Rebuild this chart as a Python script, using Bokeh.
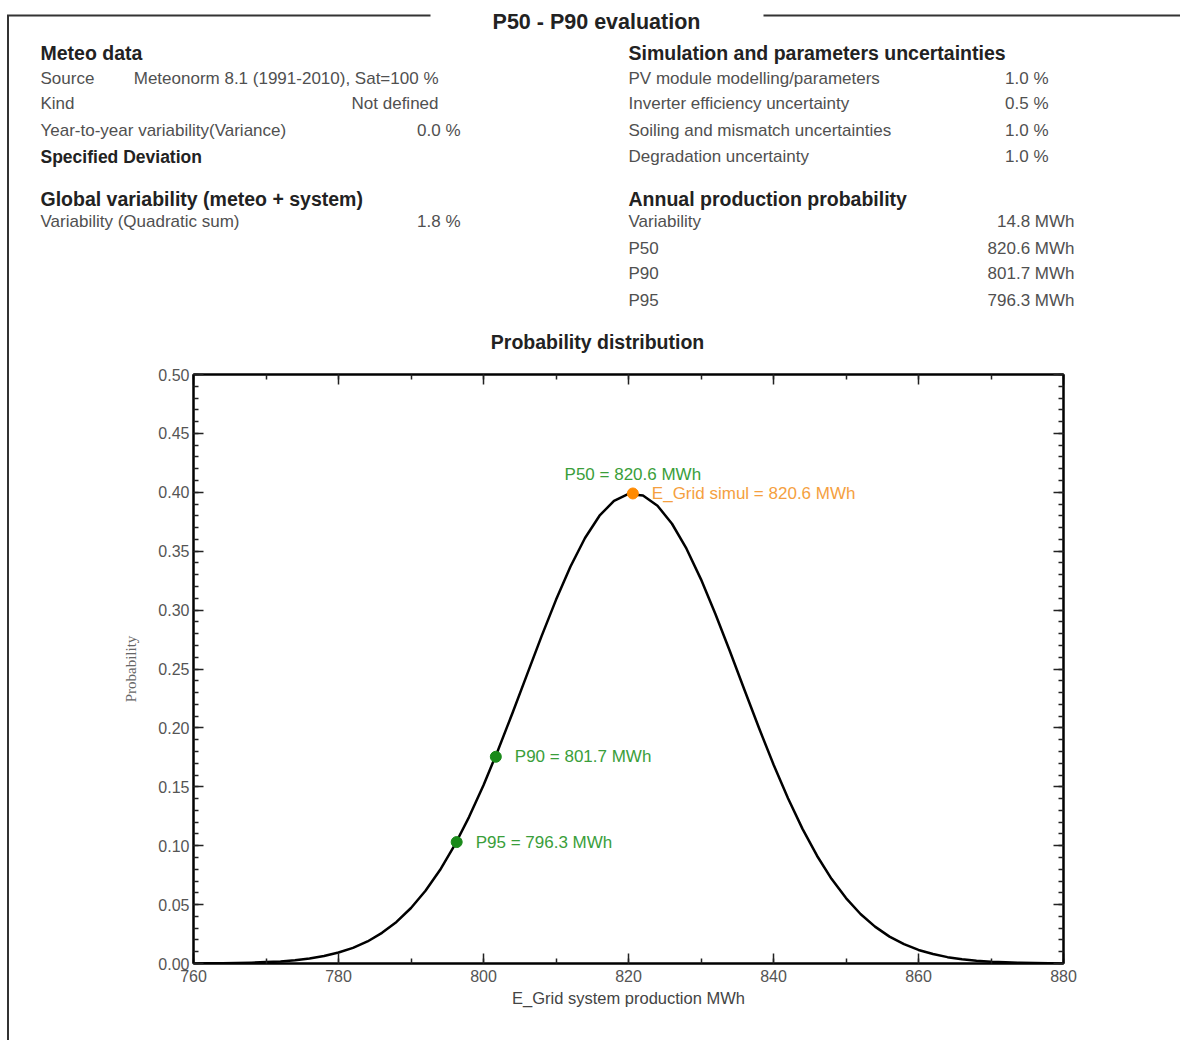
from bokeh.plotting import figure
from bokeh.models import (LinearAxis, SingleIntervalTicker, PrintfTickFormatter,
                          Range1d, ColumnDataSource, Spacer)
from bokeh.layouts import column, row
from bokeh.embed import file_html
from bokeh.resources import INLINE
from bokeh.core.properties import value

# ---------------- data ----------------
energy_mwh = [760, 762, 764, 766, 768, 770, 772, 774, 776, 778,
              780, 782, 784, 786, 788, 790, 792, 794, 796, 798,
              800, 802, 804, 806, 808, 810, 812, 814, 816, 818,
              820, 822, 824, 826, 828, 830, 832, 834, 836, 838,
              840, 842, 844, 846, 848, 850, 852, 854, 856, 858,
              860, 862, 864, 866, 868, 870, 872, 874, 876, 878, 880]
probability = [0.0001, 0.0002, 0.0003, 0.0004, 0.0007, 0.0012, 0.0018, 0.0028, 0.0043, 0.0063,
               0.0093, 0.0133, 0.0187, 0.0260, 0.0353, 0.0471, 0.0617, 0.0793, 0.1002, 0.1243,
               0.1514, 0.1811, 0.2127, 0.2452, 0.2777, 0.3087, 0.3370, 0.3612, 0.3801, 0.3928,
               0.3986, 0.3972, 0.3886, 0.3733, 0.3521, 0.3261, 0.2965, 0.2648, 0.2322, 0.1999,
               0.1690, 0.1403, 0.1143, 0.0915, 0.0719, 0.0555, 0.0420, 0.0313, 0.0228, 0.0164,
               0.0115, 0.0080, 0.0054, 0.0036, 0.0024, 0.0015, 0.0010, 0.0006, 0.0004, 0.0002, 0.0001]

p_names = ["P90", "P95"]
p_energy = [801.7, 796.3]
p_prob = [0.1755, 0.1031]
p50_energy = 820.6
p50_prob = 0.399

meteo_labels = ["Source", "Kind", "Year-to-year variability(Variance)"]
meteo_values = ["Meteonorm 8.1 (1991-2010), Sat=100 %", "Not defined", "0.0 %"]
global_labels = ["Variability (Quadratic sum)"]
global_values = ["1.8 %"]
unc_labels = ["PV module modelling/parameters", "Inverter efficiency uncertainty",
              "Soiling and mismatch uncertainties", "Degradation uncertainty"]
unc_values = ["1.0 %", "0.5 %", "1.0 %", "1.0 %"]
prod_labels = ["Variability", "P50", "P90", "P95"]
prod_values = ["14.8 MWh", "820.6 MWh", "801.7 MWh", "796.3 MWh"]

x_ticks_interval = 20
y_ticks_interval = 0.05

FONT = "Liberation Sans"
TOTAL_W = 1180
HEAD_H = 362
PLOT_H = 678
BORDER_X = 7      # page border line (left edge)
BORDER_W = 2

# ---------------- header (text block) ----------------
hd = figure(width=TOTAL_W, height=HEAD_H, output_backend="svg", toolbar_location=None,
            x_range=Range1d(0, TOTAL_W), y_range=Range1d(HEAD_H, 0),
            x_axis_location=None, y_axis_location=None, min_border=0)
hd.xgrid.visible = False
hd.ygrid.visible = False
hd.outline_line_color = None
hd.background_fill_color = "white"
hd.border_fill_color = "white"

# page frame lines
hd.line([BORDER_X + 0.5, BORDER_X + 0.5, 430], [HEAD_H, 15, 15], line_color="#333333", line_width=2,
        line_join="miter")
hd.line([763, TOTAL_W], [15, 15], line_color="#333333", line_width=2)

HEAD = "#222222"
BODY = "#505050"
NORMAL = "17px"
HEADING = "19.5px"


def txt(x, y, s, size=NORMAL, bold=False, align="left", color=BODY, baseline="middle"):
    hd.text([x], [y], text=[s], text_font=value(FONT), text_font_size=size,
            text_font_style="bold" if bold else "normal", text_align=align,
            text_baseline=baseline, text_color=color)


txt(596, 21, "P50 - P90 evaluation", size="21.5px", bold=True, align="center", color=HEAD,
    baseline="alphabetic")

row_y = [78, 103, 130, 156]
txt(40, 52, "Meteo data", size=HEADING, bold=True, color=HEAD)
txt(40, row_y[0], meteo_labels[0])
txt(438, row_y[0], meteo_values[0], align="right")
txt(40, row_y[1], meteo_labels[1])
txt(438, row_y[1], meteo_values[1], align="right")
txt(40, row_y[2], meteo_labels[2])
txt(460, row_y[2], meteo_values[2], align="right")
txt(40, row_y[3], "Specified Deviation", size="17.5px", bold=True, color=HEAD)

txt(40, 198, "Global variability (meteo + system)", size=HEADING, bold=True, color=HEAD)
txt(40, 221, global_labels[0])
txt(460, 221, global_values[0], align="right")

txt(628, 52, "Simulation and parameters uncertainties", size=HEADING, bold=True, color=HEAD)
for yy, lab, val in zip(row_y, unc_labels, unc_values):
    txt(628, yy, lab)
    txt(1048, yy, val, align="right")

txt(628, 198, "Annual production probability", size=HEADING, bold=True, color=HEAD)
for yy, lab, val in zip([221, 248, 273, 300], prod_labels, prod_values):
    txt(628, yy, lab)
    txt(1074, yy, val, align="right")

txt(597, 341, "Probability distribution", size=HEADING, bold=True, align="center", color=HEAD)

# ---------------- chart ----------------
PW = TOTAL_W - BORDER_X - BORDER_W
p = figure(width=PW, height=PLOT_H, output_backend="svg", toolbar_location=None,
           x_range=Range1d(760, 880), y_range=Range1d(0, 0.5),
           min_border_left=193 - BORDER_X - BORDER_W, min_border_right=PW - (193 - BORDER_X - BORDER_W) - 870,
           min_border_top=374 - HEAD_H, min_border_bottom=PLOT_H - (963 - HEAD_H),
           x_axis_label="E_Grid system production MWh", y_axis_label="Probability")
p.xgrid.visible = False
p.ygrid.visible = False
p.outline_line_color = "black"
p.outline_line_width = 2
p.background_fill_color = "white"
p.border_fill_color = "white"


def style_axis(ax, ticker, show_labels=True):
    ax.ticker = ticker
    ax.axis_line_color = "black"
    ax.axis_line_width = 2
    ax.major_tick_in = 10
    ax.major_tick_out = 0
    ax.minor_tick_in = 5
    ax.minor_tick_out = 0
    ax.major_tick_line_color = "#222222"
    ax.minor_tick_line_color = "#222222"
    ax.major_tick_line_width = 1.5
    ax.minor_tick_line_width = 1.5
    ax.major_label_text_font = FONT
    ax.major_label_text_font_size = "16px"
    ax.major_label_text_color = "#555555"
    if not show_labels:
        ax.major_label_text_color = None
        ax.major_label_text_font_size = "1px"
        ax.major_label_standoff = 0


xt = SingleIntervalTicker(interval=x_ticks_interval, num_minor_ticks=2)
yt = SingleIntervalTicker(interval=y_ticks_interval, num_minor_ticks=5)
for ax in p.xaxis:
    style_axis(ax, xt)
    ax.major_label_standoff = 6
    ax.axis_label_standoff = 4
    ax.axis_label_text_font = FONT
    ax.axis_label_text_font_style = "normal"
    ax.axis_label_text_font_size = "16.5px"
    ax.axis_label_text_color = "#444444"
for ax in p.yaxis:
    style_axis(ax, yt)
    ax.formatter = PrintfTickFormatter(format="%.2f")
    ax.major_label_standoff = 4
    ax.axis_label_standoff = 16
    ax.axis_label_text_font = "Liberation Serif"
    ax.axis_label_text_font_style = "normal"
    ax.axis_label_text_font_size = "15px"
    ax.axis_label_text_color = "#666666"

right_ax = LinearAxis()
style_axis(right_ax, SingleIntervalTicker(interval=y_ticks_interval, num_minor_ticks=5), show_labels=False)
p.add_layout(right_ax, "right")
top_ax = LinearAxis()
style_axis(top_ax, SingleIntervalTicker(interval=x_ticks_interval, num_minor_ticks=2), show_labels=False)
p.add_layout(top_ax, "above")

p.line(energy_mwh, probability, line_color="black", line_width=2.5, line_join="round")
src = ColumnDataSource(dict(x=p_energy, y=p_prob,
                            t=[f"{n} = {e} MWh" for n, e in zip(p_names, p_energy)]))
p.scatter("x", "y", source=src, size=11, color="#1a8a1a")
p.text("x", "y", text="t", source=src, x_offset=19, text_baseline="middle",
       text_font=value(FONT), text_font_size="17px", text_color="#3a9e3a")
src50 = ColumnDataSource(dict(x=[p50_energy], y=[p50_prob],
                              t1=[f"P50 = {p50_energy} MWh"],
                              t2=[f"E_Grid simul = {p50_energy} MWh"]))
p.scatter("x", "y", source=src50, size=11, color="#ff8a00")
p.text("x", "y", text="t1", source=src50, y_offset=-19, text_align="center", text_baseline="middle",
       text_font=value(FONT), text_font_size="17px", text_color="#3a9e3a")
p.text("x", "y", text="t2", source=src50, x_offset=19, text_baseline="middle",
       text_font=value(FONT), text_font_size="17px", text_color="#f5a040")

left_pad = Spacer(width=BORDER_X, height=PLOT_H)
border_bar = Spacer(width=BORDER_W, height=PLOT_H, styles={"background-color": "#333333"})
layout = column(hd, row(left_pad, border_bar, p, spacing=0), spacing=0)

open("out.html", "w").write(file_html(layout, INLINE))
